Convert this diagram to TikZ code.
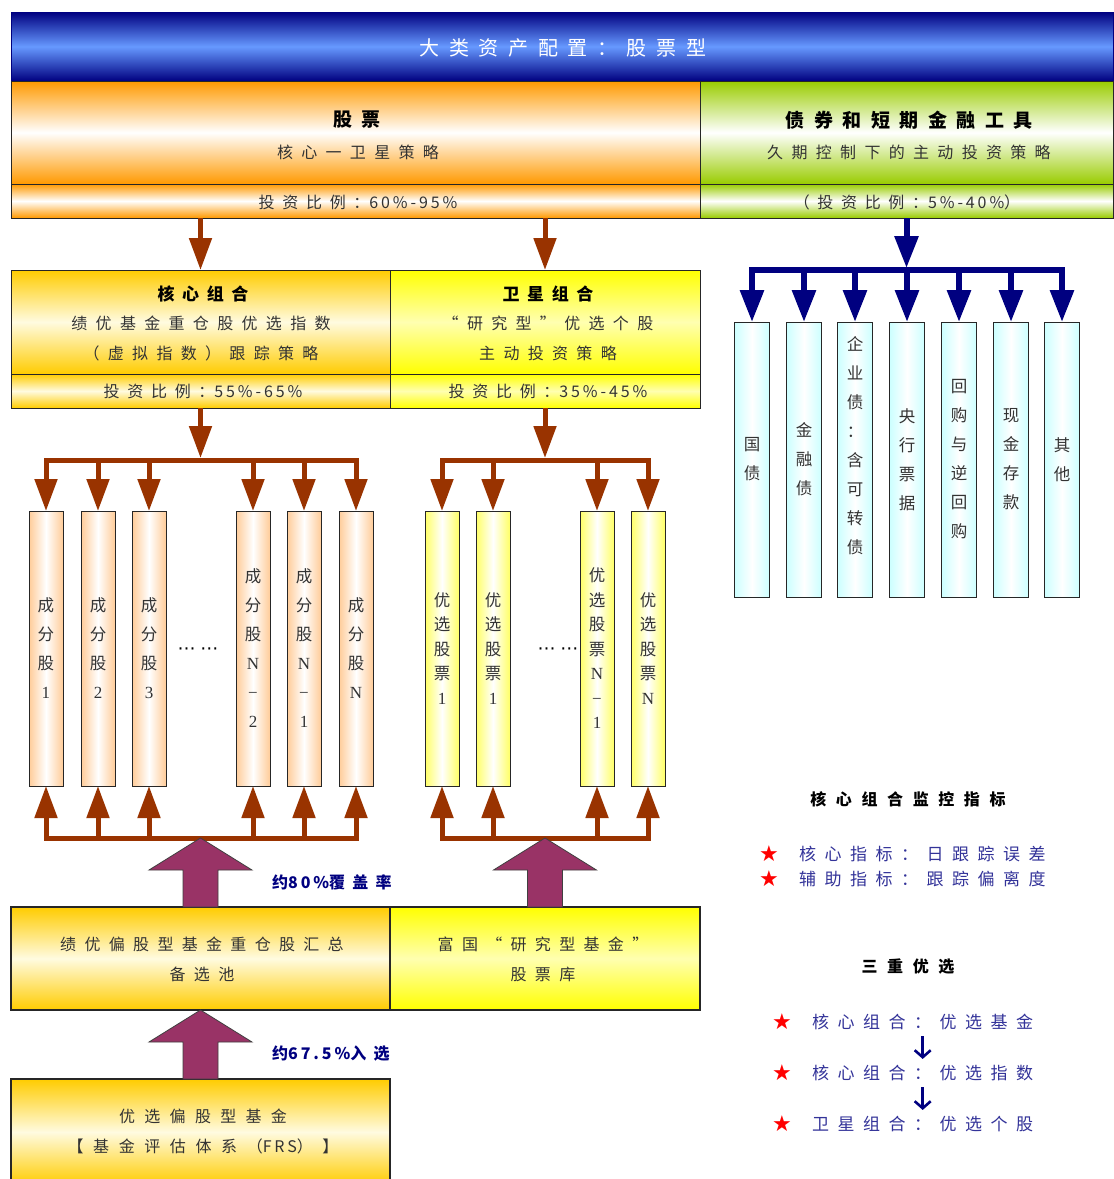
\documentclass[tikz,border=0pt]{standalone}
\usepackage{fontspec}
\setmainfont{Noto Sans CJK SC}
\newfontfamily\symf{DejaVu Sans}
\newfontfamily\serf{Liberation Serif}
\newcommand\dgs[1]{{\addfontfeatures{LetterSpace=18}#1}}
\newcommand\sd[1]{{\serf\fontsize{17}{17}\selectfont #1}}
\usetikzlibrary{arrows.meta,calc}
\definecolor{hdrD}{HTML}{000080}
\definecolor{hdrL}{HTML}{6699FF}
\definecolor{orgC}{HTML}{FF9900}
\definecolor{grnC}{HTML}{99CC00}
\definecolor{goldC}{HTML}{FFCC00}
\definecolor{goldL}{HTML}{FFFBE0}
\definecolor{yelC}{HTML}{FFFF00}
\definecolor{yelL}{HTML}{FFFFB0}
\definecolor{peachC}{HTML}{FFCC99}
\definecolor{lyelC}{HTML}{FFFF66}
\definecolor{cyanC}{HTML}{CCFFFF}
\definecolor{brownC}{HTML}{993300}
\definecolor{purpC}{HTML}{993366}
\definecolor{navyC}{HTML}{000080}
\definecolor{blueT}{HTML}{333399}
\definecolor{txtC}{HTML}{333333}
\begin{document}
\begin{tikzpicture}[x=1pt,y=-1pt,
  box/.style={anchor=north west, inner sep=0pt, outer sep=0pt, draw=black!85, line width=1pt},
  hdrbox/.style={box, draw=hdrD, top color=hdrD, bottom color=hdrD, middle color=hdrL},
  orgbox/.style={box, top color=orgC, bottom color=orgC, middle color=white},
  grnbox/.style={box, top color=grnC, bottom color=grnC, middle color=white},
  goldbox/.style={box, top color=goldC, bottom color=goldC, middle color=goldL},
  yelbox/.style={box, top color=yelC, bottom color=yelC, middle color=yelL},
  col/.style={draw=black!85, line width=1pt, inner sep=0pt, outer sep=0pt, minimum width=34pt, minimum height=275pt, align=center, text=txtC},
  pcol/.style={col, left color=peachC, right color=peachC, middle color=white, font=\fontsize{16.5}{29}\selectfont},
  ycol/.style={col, left color=lyelC, right color=lyelC, middle color=white, font=\fontsize{16.5}{24.5}\selectfont},
  ccol/.style={col, minimum width=35pt, left color=cyanC, right color=cyanC, middle color=white, font=\fontsize{16.5}{29}\selectfont},
  wtitle/.style={inner sep=0pt, text=white, font=\fontsize{20}{22}\selectfont\addfontfeatures{LetterSpace=48}},
  btitle/.style={inner sep=0pt, text=black, font=\fontsize{19}{22}\selectfont\bfseries\addfontfeatures{LetterSpace=50}},
  bsub/.style={inner sep=0pt, text=black, font=\fontsize{17}{20}\selectfont\bfseries\addfontfeatures{LetterSpace=45}},
  txt/.style={inner sep=0pt, text=txtC, font=\fontsize{16}{19}\selectfont\addfontfeatures{LetterSpace=52}},
  rtxt/.style={inner sep=0pt, text=txtC, font=\fontsize{16}{19}\selectfont\addfontfeatures{LetterSpace=52}},
  lbl/.style={inner sep=0pt, anchor=west, text=navyC, font=\fontsize{16}{19}\selectfont\bfseries\addfontfeatures{LetterSpace=45}},
  mtitle/.style={inner sep=0pt, text=black, font=\fontsize{16}{19}\selectfont\bfseries\addfontfeatures{LetterSpace=60}},
  mtxt/.style={inner sep=0pt, anchor=west, text=blueT, font=\fontsize{17}{20}\selectfont\addfontfeatures{LetterSpace=50}},
  starx/.style={inner sep=0pt, text=red, font=\symf\fontsize{22}{22}\selectfont},
  dotsx/.style={inner sep=0pt, font=\symf\fontsize{18}{18}\selectfont},
  brarr/.style={draw=brownC, line width=5pt, -{Triangle[width=22pt,length=32pt]}},
  brline/.style={draw=brownC, line width=5pt, line cap=rect},
  blarr/.style={draw=navyC, line width=6pt, -{Triangle[width=23pt,length=32pt]}},
  blline/.style={draw=navyC, line width=6pt, line cap=rect},
  parr/.style={fill=purpC, draw=black!75, line width=0.8pt, line join=miter},
  downarr/.style={draw=navyC, line width=2.6pt, -{Straight Barb[length=7pt,width=16pt]}, shorten <=6pt, shorten >=6pt}
]
\useasboundingbox (0,0) rectangle (1114,1179);
\fill[white] (0,0) rectangle (1114,1179);

% ---------- header ----------
\node[hdrbox, minimum width=1102pt, minimum height=69pt] (hdr) at (11,12) {};
\node[wtitle] (hdrT) at (563,48) {大类资产配置：股票型};

% ---------- stock / bond blocks ----------
\node[orgbox, minimum width=689pt, minimum height=103pt] (stk) at (11,81) {};
\node[orgbox, minimum width=689pt, minimum height=34pt] (stkr) at (11,184) {};
\node[grnbox, minimum width=413pt, minimum height=103pt] (bnd) at (700,81) {};
\node[grnbox, minimum width=413pt, minimum height=34pt] (bndr) at (700,184) {};
\node[btitle] (stkT) at (357,120) {股票};
\node[txt] (stkS) at (358,152) {核心一卫星策略};
\node[txt, font=\fontsize{16}{19}\selectfont\addfontfeatures{LetterSpace=48}] (stkR) at (358,202) {投资比例：\dgs{60\%-95\%}};
\node[btitle] (bndT) at (909,120) {债券和短期金融工具};
\node[txt] (bndS) at (909,152) {久期控制下的主动投资策略};
\node[txt, font=\fontsize{16}{19}\selectfont\addfontfeatures{LetterSpace=48}] (bndR) at (907,202) {（投资比例：\dgs{5\%-40\%}）};

% ---------- core / satellite ----------
\node[goldbox, minimum width=379pt, minimum height=104pt] (core) at (11,270) {};
\node[goldbox, minimum width=379pt, minimum height=34pt] (corer) at (11,374) {};
\node[yelbox, minimum width=310pt, minimum height=104pt] (sat) at (390,270) {};
\node[yelbox, minimum width=310pt, minimum height=34pt] (satr) at (390,374) {};
\node[bsub] (coreT) at (203,294) {核心组合};
\node[txt] (coreS1) at (201,323) {绩优基金重仓股优选指数};
\node[txt] (coreS2) at (201,353) {（虚拟指数）跟踪策略};
\node[txt, font=\fontsize{16}{19}\selectfont\addfontfeatures{LetterSpace=48}] (coreR) at (203,391) {投资比例：\dgs{55\%-65\%}};
\node[bsub] (satT) at (548,294) {卫星组合};
\node[txt] (satS1) at (548,323) {“研究型”优选个股};
\node[txt] (satS2) at (548,353) {主动投资策略};
\node[txt, font=\fontsize{16}{19}\selectfont\addfontfeatures{LetterSpace=48}] (satR) at (548,391) {投资比例：\dgs{35\%-45\%}};

\draw[brarr] (stkr.south -| core.north) -- (core.north);
\draw[brarr] (stkr.south -| sat.north) -- (sat.north);

% ---------- core columns ----------
\node[pcol] (c1) at (46,648.5) {成\\分\\股\\\sd{1}};
\node[pcol] (c2) at (98,648.5) {成\\分\\股\\\sd{2}};
\node[pcol] (c3) at (149,648.5) {成\\分\\股\\\sd{3}};
\node[pcol] (c4) at (253,648.5) {成\\分\\股\\\sd{N}\\\sd{−}\\\sd{2}};
\node[pcol] (c5) at (304,648.5) {成\\分\\股\\\sd{N}\\\sd{−}\\\sd{1}};
\node[pcol] (c6) at (356,648.5) {成\\分\\股\\\sd{N}};
\node[dotsx] (dots1) at (198,651) {⋯\hspace{5pt}⋯};

\coordinate (ctop) at (200.5,460);
\coordinate (cbot) at (200.5,838);
\draw[brarr] (corer.south) -- ($(ctop)+(0,-2)$);
\draw[brline] (c1.north |- ctop) -- (c6.north |- ctop);
\draw[brline] (c1.south |- cbot) -- (c6.south |- cbot);
\foreach \c in {c1,c2,c3,c4,c5,c6}{
  \draw[brarr] (\c.north |- ctop) -- (\c.north);
  \draw[brarr] (\c.south |- cbot) -- (\c.south);
}

% ---------- satellite columns ----------
\node[ycol] (y1) at (442,648.5) {优\\选\\股\\票\\\sd{1}};
\node[ycol] (y2) at (493,648.5) {优\\选\\股\\票\\\sd{1}};
\node[ycol] (y3) at (597,648.5) {优\\选\\股\\票\\\sd{N}\\\sd{−}\\\sd{1}};
\node[ycol] (y4) at (648,648.5) {优\\选\\股\\票\\\sd{N}};
\node[dotsx] (dots2) at (558,651) {⋯\hspace{5pt}⋯};

\coordinate (stop) at (545,460);
\coordinate (sbot) at (545,838);
\draw[brarr] (satr.south) -- ($(stop)+(0,-2)$);
\draw[brline] (y1.north |- stop) -- (y4.north |- stop);
\draw[brline] (y1.south |- sbot) -- (y4.south |- sbot);
\foreach \c in {y1,y2,y3,y4}{
  \draw[brarr] (\c.north |- stop) -- (\c.north);
  \draw[brarr] (\c.south |- sbot) -- (\c.south);
}

% ---------- bond columns ----------
\node[ccol] (b1) at (752,459.5) {国\\债};
\node[ccol] (b2) at (804,459.5) {金\\融\\债};
\node[ccol] (b3) at (855,459.5) {企\\业\\债\\：\\含\\可\\转\\债\\~};
\node[ccol] (b4) at (907,459.5) {央\\行\\票\\据};
\node[ccol] (b5) at (959,459.5) {回\\购\\与\\逆\\回\\购};
\node[ccol] (b6) at (1011,459.5) {现\\金\\存\\款};
\node[ccol] (b7) at (1062,459.5) {其\\他};

\coordinate (btop) at (906.5,270);
\draw[blarr] (bndr.south) -- ($(btop)+(0,-2)$);
\draw[blline] (b1.north |- btop) -- (b7.north |- btop);
\foreach \c in {b1,b2,b3,b4,b5,b6,b7}{
  \draw[blarr] (\c.north |- btop) -- (\c.north);
}

% ---------- pools ----------
\node[goldbox, minimum width=379pt, minimum height=103pt, line width=1.4pt] (pool1) at (11,907) {};
\node[yelbox, minimum width=310pt, minimum height=103pt, line width=1.4pt] (pool2) at (390,907) {};
\node[rtxt] (p1a) at (202,944) {绩优偏股型基金重仓股汇总};
\node[rtxt] (p1b) at (202,974) {备选池};
\node[rtxt] (p2a) at (543,944) {富国“研究型基金”};
\node[rtxt] (p2b) at (543,974) {股票库};

\node[goldbox, minimum width=379pt, minimum height=106pt, line width=1.4pt] (fund) at (11,1079) {};
\node[rtxt, font=\fontsize{16}{19}\selectfont\addfontfeatures{LetterSpace=58}] (f1) at (203,1116) {优选偏股型基金};
\node[rtxt, font=\fontsize{16}{19}\selectfont\addfontfeatures{LetterSpace=60}] (f2) at (203,1146) {【基金评估体系（\dgs{FRS}）】};

% purple block arrows
\draw[parr] ($(pool1.north)+(-17.5,0)$) -- ++(0,-37) -- ++(-34,0) -- (pool1.north |- cbot) -- ($(pool1.north)+(51.5,-37)$) -- ++(-34,0) -- ++(0,37) -- cycle;
\draw[parr] ($(pool2.north)+(-17.5,0)$) -- ++(0,-37) -- ++(-34,0) -- (pool2.north |- sbot) -- ($(pool2.north)+(51.5,-37)$) -- ++(-34,0) -- ++(0,37) -- cycle;
\draw[parr] ($(fund.north)+(-17.5,0)$) -- ++(0,-37) -- ++(-34,0) -- (pool1.south) -- ($(fund.north)+(51.5,-37)$) -- ++(-34,0) -- ++(0,37) -- cycle;

\node[lbl] (l80) at (272,882) {约\dgs{80\%}覆盖率};
\node[lbl] (l67) at (272,1054) {约\dgs{67.5\%}入选};

% ---------- right side text ----------
\node[mtitle] (monT) at (908,799) {核心组合监控指标};
\node[starx] (s1) at (769,854) {★};
\node[mtxt] (m1) at (799,854) {核心指标：日跟踪误差};
\node[starx] (s2) at (769,879) {★};
\node[mtxt] (m2) at (799,879) {辅助指标：跟踪偏离度};

\node[mtitle] (triT) at (908,967) {三重优选};
\node[starx] (s3) at (782,1022) {★};
\node[mtxt] (t1) at (812,1022) {核心组合：优选基金};
\node[starx] (s4) at (782,1073) {★};
\node[mtxt] (t2) at (812,1073) {核心组合：优选指数};
\node[starx] (s5) at (782,1124) {★};
\node[mtxt] (t3) at (812,1124) {卫星组合：优选个股};
\draw[downarr] (t1.south) -- (t2.north);
\draw[downarr] (t2.south) -- (t3.north);
\end{tikzpicture}
\end{document}
